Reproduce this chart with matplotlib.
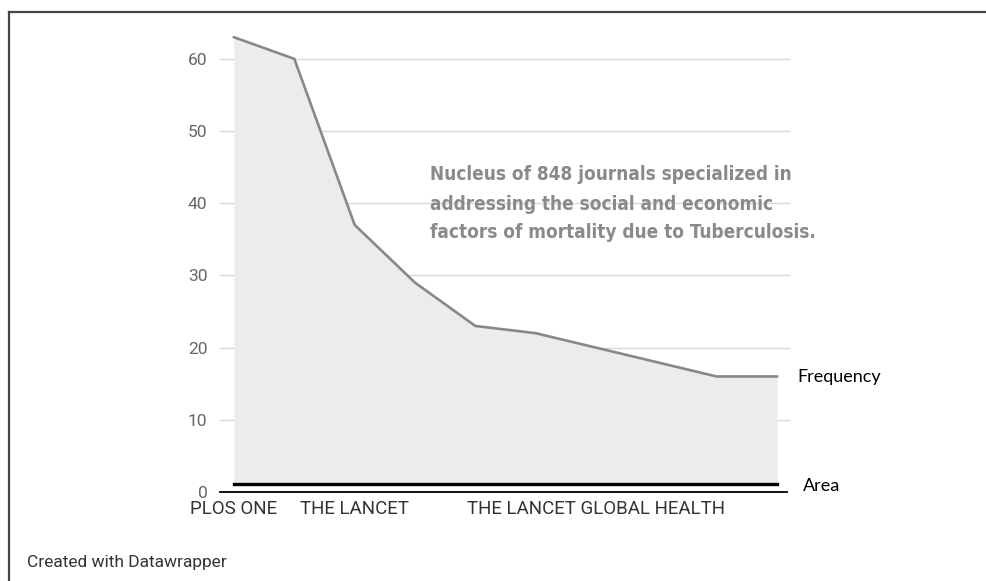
import matplotlib
matplotlib.use("Agg")
import matplotlib.pyplot as plt
from matplotlib.lines import Line2D

# Data
journals = ["PLOS ONE", "", "THE LANCET", "", "", "", "THE LANCET GLOBAL HEALTH", "", "", ""]
frequency = [63, 60, 37, 29, 23, 22, 20, 18, 16, 16]
y_ticks = [0, 10, 20, 30, 40, 50, 60]
area_level = 1.1

note_lines = [
    "Nucleus of 848 journals specialized in",
    "addressing the social and economic",
    "factors of mortality due to Tuberculosis.",
]

W, H = 987, 581
fig = plt.figure(figsize=(W / 100, H / 100), dpi=100)
fig.patch.set_facecolor("white")

# axes placed in pixels: x 220..790, y 30..492
ax = fig.add_axes([220 / W, 1 - 492 / H, 570 / W, 462 / H])
x = list(range(len(frequency)))

ax.fill_between(x, [area_level] * len(x), frequency, color="#ececec", lw=0, zorder=1)
ax.plot(x, frequency, color="#888888", lw=1.9, solid_joinstyle="miter", zorder=3)
ax.plot([x[0], x[-1]], [area_level, area_level], color="black", lw=2.4, zorder=4)
ax.plot([-0.23, 9.17], [0, 0], color="black", lw=1.3, zorder=4, clip_on=False)

ax.set_xlim(-0.232, 9.215)
ax.set_ylim(0, 64)
ax.set_yticks(y_ticks)
ax.yaxis.grid(True, color="#d9d9d9", lw=1.0, zorder=0)
ax.set_axisbelow(True)
for s in ax.spines.values():
    s.set_visible(False)
ax.tick_params(axis="y", length=0, pad=9, labelsize=12.5, labelcolor="#666666")
ax.tick_params(axis="x", length=0, pad=6, labelsize=13.5, labelcolor="#333333")
for lab in ax.get_yticklabels():
    lab.set_fontfamily("Roboto")
ax.set_xticks(x)
ax.set_xticklabels(journals, fontfamily="Roboto")

# annotation
for i, line in enumerate(note_lines):
    fig.text(430 / W, 1 - (175 + 29 * i) / H, line, ha="left", va="center",
             fontsize=13.6, fontweight="bold", fontstretch="condensed",
             family="DejaVu Sans", color="#8a8a8a")

fig.text(797 / W, 1 - 377 / H, "Frequency", ha="left", va="center",
         fontsize=13, family="Lato", color="black")
fig.text(803 / W, 1 - 486 / H, "Area", ha="left", va="center",
         fontsize=13, family="Lato", color="black")
fig.text(27 / W, 1 - 563 / H, "Created with Datawrapper", ha="left", va="center",
         fontsize=12.5, family="Roboto", color="#333333")

# frame (cut off on the right and bottom)
fig.add_artist(Line2D([9 / W, 9 / W], [0, 1 - 12 / H], color="#444444", lw=1.6))
fig.add_artist(Line2D([9 / W, 1], [1 - 12 / H, 1 - 12 / H], color="#444444", lw=1.6))

fig.savefig("out.png", dpi=100)
